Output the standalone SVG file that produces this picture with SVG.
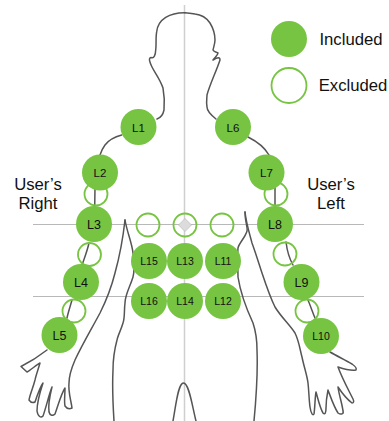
<svg xmlns="http://www.w3.org/2000/svg" width="389" height="421" viewBox="0 0 389 421">
<style>
text{font-family:"Liberation Sans",Arial,sans-serif;fill:#111;text-anchor:middle}
.inc{fill:#76c442}
.exc{fill:none;stroke:#76c442;stroke-width:1.8}
.lbl{font-size:12.5px}
.sm{font-size:11.5px}
.xs{font-size:10.5px}
.cap{font-size:16.7px}
.gh{stroke:#b8b8b8;stroke-width:1.2;fill:none}
.gv{stroke:#cfcfcf;stroke-width:1.5;fill:none}
.body{stroke:#555;stroke-width:1.5;fill:none;stroke-linejoin:round;stroke-linecap:round}
</style>
<rect width="389" height="421" fill="#fff"/>
<g id="guides">
<path class="gh" d="M33 224.500H364M33 296.500H364"/>
<path class="gv" d="M184.500 5V421"/>
</g>
<g id="connectors">
<path class="body" d="M185 12.700C170 12.500 158 19 156.700 31.700C155.500 38 156.500 45 155.700 50C155.500 55 154 59 151 57.500C148 58 150 63 152 67C155 73 160 79 163 88C164.500 96 164.500 104 164 110C163 115 160 118 157 119"/>
<path class="body" d="M121.700 135C114 137 108 141 105 145C102 149 101 152 100 155"/>
<path class="body" d="M95 188L94.700 207"/>
<path class="body" d="M89 243C87 252 84 259 82 265"/>
<path class="body" d="M72 300C70 307 68 313 67 318"/>
<path class="body" d="M47 350C38 357 30 362 21 366.500L27 372C31 370 36 365 40 363C38 370 36 375 35 380C33 388 30 394 29 400C31 403 33 403 35 402C37 396 40 387 43 383C40 392 37 402 37 411C38 417 41 418 43 416C46 408 49 394 52 387C50 395 48 405 49 412C50 416 53 416 55 414C58 406 61 394 65 388C65 395 64 401 65 406C67 409 70 409 72 408C71 400 68 392 69 383C69 375 72 367 75 360C82 345 92 328 100 313C107 299 112 285 115 273C120 255 123 238 125 220"/>
<path class="body" d="M125 220C127 232 132 243 133 253C134 262 135 270 133 277C130 287 125 295 125 303C124 310 125 318 123 323C121 330 118 335 117 340C113 355 113 362 113 370C112 390 113 405 114 421"/>
<path class="body" d="M173 421C176 405 178 383 183.500 383C189 383 192 405 196 421"/>
<path class="body" d="M245 212C245 222 248 228 247 231C245 238 239 243 238 248C237 258 238 268 238 277C240 290 247 310 253 323C256 332 257 342 257 350C258 375 256 400 254 421"/>
<path class="body" d="M245 212C246 222 249 232 252 243C256 254 259 264 262 273C266 285 270 297 275 307C281 317 290 325 295 333C299 341 300 350 302 357C304 367 307 375 308 383C309 392 309 400 310 407C311 414 313 416 314 414C315 407 315 397 316 392C318 399 320 408 323 413C325 415 326 413 326 408C326 402 327 395 328 390C331 398 334 407 338 413C341 415 344 414 343 411C342 403 339 395 338 387C342 393 348 400 352 403C354 403 354 401 353 399C348 389 342 378 338 367C344 369 351 371 356 370C357 368 355 366 352 364C345 360 337 356 330 352"/>
<path class="body" d="M315 318C312 311 310 304 307 298"/>
<path class="body" d="M293 265C289 258 287 250 286 242"/>
<path class="body" d="M275 188V207"/>
<path class="body" d="M269 155C265 148 256 141 248 137"/>
<path class="body" d="M216 119C211 115 207 111 207 107C206 102 207 98 207 95C210 84 216 72 220 60C220 57 218 57 213 60C215 57 218 55 218 53C216 52 214 52 213 50C214 46 215 43 215 40C215 34 213 28 210 23C206 17 200 14.500 195 14C191 13 188 13 185 12.700"/>
</g>
<g id="ex-l2r"><circle class="exc" cx="96" cy="194" r="11.500"/></g>
<g id="ex-l3r"><circle class="exc" cx="89.500" cy="254.500" r="11.500"/></g>
<g id="ex-l4r"><circle class="exc" cx="74" cy="311" r="11.500"/></g>
<g id="ex-l7l"><circle class="exc" cx="276" cy="194" r="11.500"/></g>
<g id="ex-l8l"><circle class="exc" cx="285" cy="254" r="11.500"/></g>
<g id="ex-l9l"><circle class="exc" cx="307" cy="311" r="11.500"/></g>
<g id="ex-c1"><circle class="exc" cx="148" cy="225" r="11.500"/></g>
<g id="ex-c2"><circle class="exc" cx="185" cy="225" r="11.500"/><path d="M185 218.500L191.500 225L185 231.500L178.500 225Z" fill="#dcdcdc" stroke="#b5b5b5" stroke-width=".6"/></g>
<g id="ex-c3"><circle class="exc" cx="222" cy="225" r="11.500"/></g>
<g id="L1"><circle class="inc" cx="138.500" cy="127" r="18"/><text class="sm" x="138.500" y="131.500">L1</text></g>
<g id="L2"><circle class="inc" cx="100" cy="172.500" r="18"/><text class="sm" x="100" y="177">L2</text></g>
<g id="L3"><circle class="inc" cx="94" cy="224" r="18"/><text class="lbl" x="94" y="228.500">L3</text></g>
<g id="L4"><circle class="inc" cx="81" cy="282" r="18"/><text class="lbl" x="81" y="286.500">L4</text></g>
<g id="L5"><circle class="inc" cx="59.500" cy="335" r="18"/><text class="lbl" x="59.500" y="339.500">L5</text></g>
<g id="L6"><circle class="inc" cx="233" cy="127" r="18"/><text class="sm" x="233" y="131.500">L6</text></g>
<g id="L7"><circle class="inc" cx="266.500" cy="172.500" r="18"/><text class="sm" x="266.500" y="177">L7</text></g>
<g id="L8"><circle class="inc" cx="275" cy="224" r="18"/><text class="lbl" x="275" y="228.500">L8</text></g>
<g id="L9"><circle class="inc" cx="301.500" cy="282" r="18"/><text class="lbl" x="301.500" y="286.500">L9</text></g>
<g id="L10"><circle class="inc" cx="321" cy="336" r="18"/><text class="xs" x="321" y="340">L10</text></g>
<g id="L11"><circle class="inc" cx="223" cy="261" r="18"/><text class="xs" x="223" y="265">L11</text></g>
<g id="L12"><circle class="inc" cx="223" cy="301" r="18"/><text class="xs" x="223" y="305">L12</text></g>
<g id="L13"><circle class="inc" cx="185" cy="261" r="18"/><text class="xs" x="185" y="265">L13</text></g>
<g id="L14"><circle class="inc" cx="185" cy="301" r="18"/><text class="xs" x="185" y="305">L14</text></g>
<g id="L15"><circle class="inc" cx="149" cy="261" r="18"/><text class="xs" x="149" y="265">L15</text></g>
<g id="L16"><circle class="inc" cx="149" cy="301" r="18"/><text class="xs" x="149" y="305">L16</text></g>
<g id="legend-included"><circle class="inc" cx="289" cy="39" r="18"/><text class="cap" x="351" y="45">Included</text></g>
<g id="legend-excluded"><circle class="exc" cx="289" cy="85.500" r="17.500"/><text class="cap" x="353" y="91">Excluded</text></g>
<g id="caption-right"><text class="cap" x="38" y="190">User’s</text><text class="cap" x="38" y="209">Right</text></g>
<g id="caption-left"><text class="cap" x="331" y="190">User’s</text><text class="cap" x="331" y="209">Left</text></g>
</svg>
